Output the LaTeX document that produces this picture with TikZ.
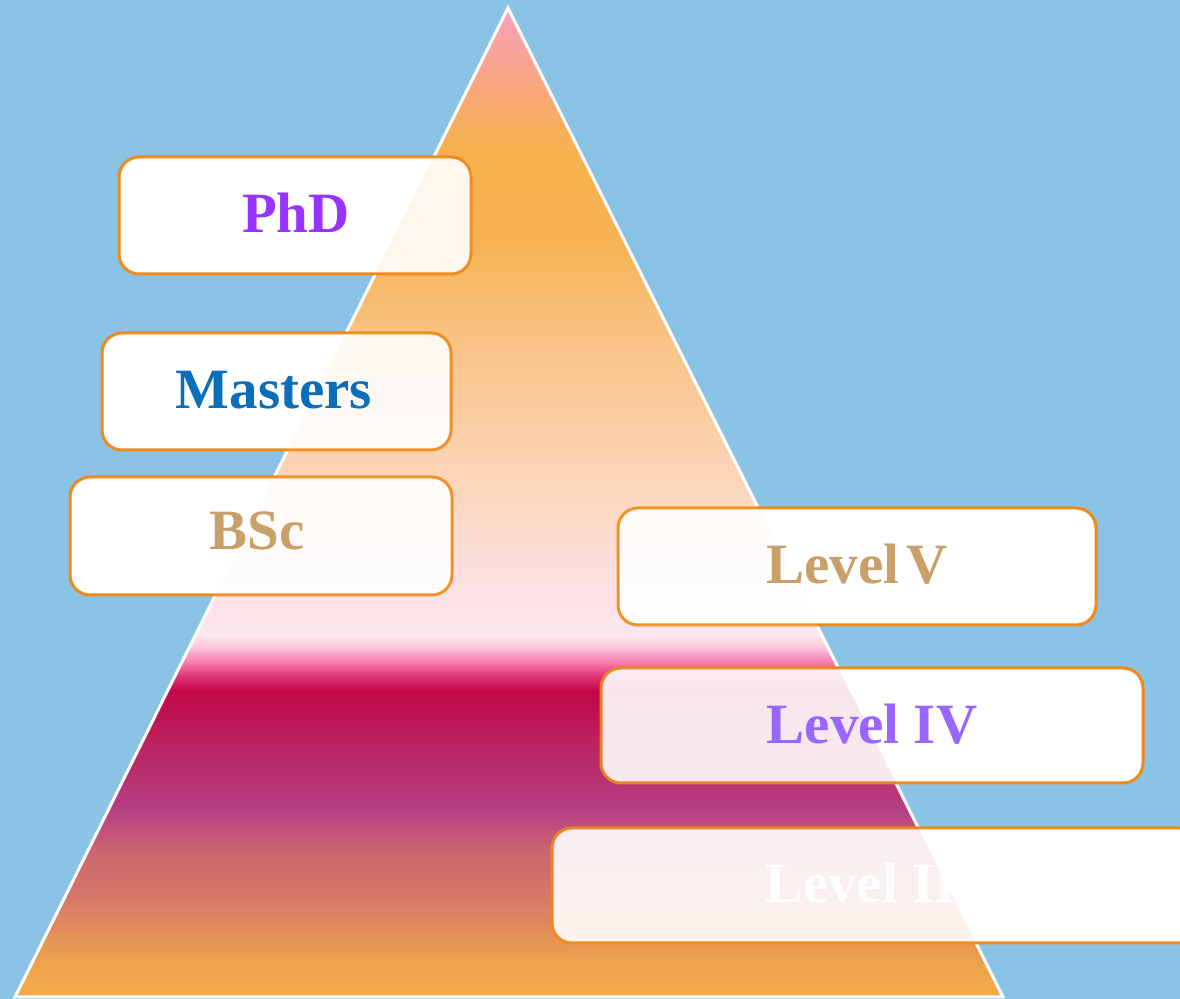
\documentclass[tikz,border=0pt]{standalone}
\usepackage{fontspec}
\setmainfont{Liberation Serif}

\definecolor{skyback}{HTML}{8AC3E5}
\definecolor{boxline}{HTML}{F08A1A}
\definecolor{phdcol}{HTML}{9933FF}
\definecolor{mastcol}{HTML}{0A6EB8}
\definecolor{tancol}{HTML}{C8A06A}
\definecolor{lfourcol}{HTML}{9966FF}

% pyramid colours, bottom to top
\definecolor{pyA}{RGB}{244,172,72}
\definecolor{pyB}{RGB}{237,160,78}
\definecolor{pyC}{RGB}{215,122,104}
\definecolor{pyD}{RGB}{203,102,112}
\definecolor{pyE}{RGB}{181,63,130}
\definecolor{pyF}{RGB}{186,42,106}
\definecolor{pyG}{RGB}{194,12,76}
\definecolor{pyH}{RGB}{196,8,72}
\definecolor{pyI}{RGB}{226,58,124}
\definecolor{pyJ}{RGB}{247,122,170}
\definecolor{pyK}{RGB}{252,200,220}
\definecolor{pyL}{RGB}{253,230,238}
\definecolor{pyM}{RGB}{253,226,230}
\definecolor{pyN}{RGB}{251,216,192}
\definecolor{pyO}{RGB}{249,196,138}
\definecolor{pyP}{RGB}{247,179,82}
\definecolor{pyQ}{RGB}{247,177,76}
\definecolor{pyR}{RGB}{248,166,131}
\definecolor{pyS}{RGB}{249,160,190}

\pgfdeclareverticalshading{pyramid}{100bp}{%
  color(0bp)=(pyA); color(25bp)=(pyA); color(26.9bp)=(pyB);
  color(29.9bp)=(pyC); color(32.4bp)=(pyD); color(34.5bp)=(pyE);
  color(37bp)=(pyF); color(40bp)=(pyG); color(40.5bp)=(pyH);
  color(41.3bp)=(pyI); color(41.9bp)=(pyJ); color(42.7bp)=(pyK);
  color(43.3bp)=(pyL); color(45.6bp)=(pyM); color(50.1bp)=(pyN);
  color(57.7bp)=(pyO); color(63.3bp)=(pyP); color(67.8bp)=(pyQ);
  color(71.4bp)=(pyR); color(75bp)=(pyS); color(100bp)=(pyS)}

\tikzset{
  levelbox/.style={draw=boxline, line width=1.5pt, fill=white, rounded corners=10pt, inner sep=0pt},
  leveltext/.style={inner sep=0pt, font=\fontsize{28.5}{30}\selectfont\bfseries}
}

\begin{document}
\begin{tikzpicture}[x=0.5pt, y=-0.5pt]
  \fill[skyback] (0,0) rectangle (1180,999);
  \useasboundingbox (0,0) rectangle (1180,999);

  % pyramid
  \coordinate (apex) at (508,8);
  \coordinate (baseL) at (15,997);
  \coordinate (baseR) at (1003,997);
  \shade[shading=pyramid] (apex) -- (baseL) -- (baseR) -- cycle;
  \draw[white, line width=1.5pt, line join=miter] (apex) -- (baseL) -- (baseR) -- cycle;

  % boxes
  \node[levelbox, minimum width=176pt, minimum height=58.5pt] (phd) at (295,215.5) {};
  \node[levelbox, minimum width=174.5pt, minimum height=58.5pt] (masters) at (276.5,391.5) {};
  \node[levelbox, minimum width=191pt, minimum height=59pt] (bsc) at (261,536) {};
  \node[levelbox, minimum width=239pt, minimum height=58.5pt] (levelv) at (857,566.5) {};
  \node[levelbox, minimum width=271pt, minimum height=57.5pt] (leveliv) at (872,725.5) {};
  \node[levelbox, minimum width=324pt, minimum height=57.5pt] (leveliii) at (876,885.5) {};

  % pyramid showing faintly through the boxes
  \foreach \b in {phd,masters,bsc,levelv,leveliv,leveliii}{
    \begin{scope}
      \clip[rounded corners=10pt] (\b.south west) rectangle (\b.north east);
      \shade[shading=pyramid, opacity=0.1] (apex) -- (baseL) -- (baseR) -- cycle;
    \end{scope}
  }

  % labels
  \node[leveltext, text=phdcol] (phdtext) at (296,213) {PhD};
  \node[leveltext, text=mastcol] (masterstext) at (274,390) {Masters};
  \node[leveltext, text=tancol] (bsctext) at (257,531) {BSc};
  \node[leveltext, text=tancol] (levelvtext) at (857,564) {Level\kern0.12em V};
  \node[leveltext, text=lfourcol] (levelivtext) at (872,724) {Level IV};
  \node[leveltext, text=white] (leveliiitext) at (872,883) {Level III};
\end{tikzpicture}
\end{document}
